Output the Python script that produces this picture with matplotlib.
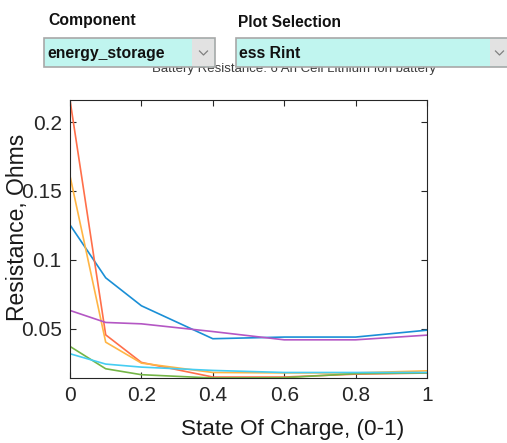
import matplotlib.pyplot as plt
from matplotlib.patches import Rectangle

plt.rcParams['font.family'] = ['Liberation Sans', 'DejaVu Sans']

# resistance tables, one line per cell temperature
soc = [0, 0.1, 0.2, 0.4, 0.6, 0.8, 1.0]
rint_blue = [0.1254, 0.0870, 0.0667, 0.0428, 0.0440, 0.0440, 0.0490]
rint_red = [0.2160, 0.0456, 0.0256, 0.0150, 0.0150, 0.0171, 0.0179]
rint_yellow = [0.1609, 0.0403, 0.0251, 0.0183, 0.0180, 0.0180, 0.0195]
rint_purple = [0.0633, 0.0546, 0.0536, 0.0480, 0.0420, 0.0420, 0.0454]
rint_green = [0.0372, 0.0210, 0.0167, 0.0143, 0.0145, 0.0175, 0.0180]
rint_cyan = [0.0319, 0.0244, 0.0222, 0.0198, 0.0183, 0.0183, 0.0183]

series = [rint_blue, rint_red, rint_yellow, rint_purple, rint_green, rint_cyan]
colors = ["#1A8FD6", "#FF6F4A", "#FFB545", "#B457C4", "#74B547", "#45CDF2"]

x_ticks = [0, 0.2, 0.4, 0.6, 0.8, 1]
x_tick_labels = ["0", "0.2", "0.4", "0.6", "0.8", "1"]
y_ticks = [0.05, 0.1, 0.15, 0.2]
y_tick_labels = ["0.05", "0.1", "0.15", "0.2"]

W, H = 507, 443
fig = plt.figure(figsize=(W / 100, H / 100), dpi=100)

ax = fig.add_axes([70 / W, 1 - 378 / H, 357 / W, 278 / H])
for vals, c in zip(series, colors):
    ax.plot(soc, vals, color=c, linewidth=1.2)

all_vals = [v for s in series for v in s]
ax.set_xlim(0, 1)
ax.set_ylim(min(all_vals), max(all_vals))
ax.set_xticks(x_ticks)
ax.set_xticklabels(x_tick_labels)
ax.set_yticks(y_ticks)
ax.set_yticklabels(y_tick_labels)
ax.tick_params(direction="in", top=True, right=True, length=4, width=0.8,
               colors="#262626", labelsize=15, labelcolor="#262626", pad=6)
for sp in ax.spines.values():
    sp.set_color("#262626")
    sp.set_linewidth(0.8)

# overlay in pixel coordinates for labels and the dropdown widgets
ui = fig.add_axes([0, 0, 1, 1], zorder=5)
ui.set_xlim(0, W)
ui.set_ylim(H, 0)
ui.axis("off")
ui.patch.set_alpha(0)

ui.text(294, 69, "Battery Resistance: 6 Ah Cell Lithium Ion battery",
        fontsize=9.5, color="#3a3a3a", ha="center", va="center", zorder=1)
ui.text(293, 430, "State Of Charge, (0-1)", fontsize=16.2, color="#1a1a1a",
        ha="center", va="center")
ui.text(18, 227, "Resistance, Ohms", fontsize=16.5, color="#1a1a1a",
        ha="center", va="center", rotation=90)

ui.text(48, 20, "Component", fontsize=11.3, fontweight="bold", color="#111111",
        ha="left", va="center")
ui.text(238, 22, "Plot Selection", fontsize=11.2, fontweight="bold",
        color="#111111", ha="left", va="center")


def dropdown(x0, x1, arrow_x, label):
    ui.add_patch(Rectangle((x0, 38), x1 - x0, 29, facecolor="#C0F5EF",
                           edgecolor="#A8A8A8", linewidth=1.2, zorder=3))
    ui.add_patch(Rectangle((arrow_x, 39), x1 - arrow_x - 1, 27,
                           facecolor="#E2E2E2", edgecolor="none", zorder=4))
    ax_c = (arrow_x + x1) / 2
    ui.plot([ax_c - 4, ax_c, ax_c + 4], [51, 55, 51], color="#808080",
            linewidth=0.9, zorder=5)
    ui.text(x0 + 3, 53, label, fontsize=11.3, fontweight="bold",
            color="#111111", ha="left", va="center", zorder=5)


dropdown(44, 215, 192, "energy_storage")
dropdown(236, 509, 490, "ess Rint")

fig.savefig("out.png", dpi=100)
